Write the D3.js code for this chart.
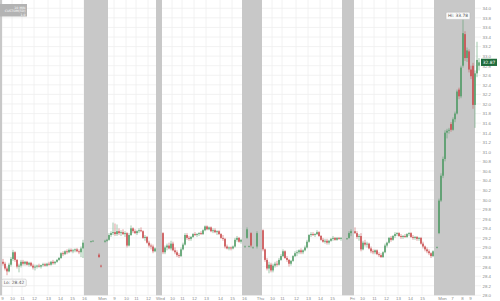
<!DOCTYPE html>
<html>
<head>
<meta charset="utf-8">
<script src="https://cdn.jsdelivr.net/npm/d3@7"></script>
<style>
  body { margin: 0; background: #fff; }
  svg { display: block; font-family: "DejaVu Sans", sans-serif; }
</style>
</head>
<body>
<div id="chart"></div>
<script>
// bar number, open, high, low, close  (10 min bars, extended hours are sparse)
const candles = [
  // first day
  [1,28.70,28.76,28.62,28.66],[2,28.66,28.70,28.52,28.56],[3,28.56,28.60,28.42,28.50],[4,28.50,28.68,28.48,28.64],
  [5,28.64,28.80,28.60,28.76],[6,28.76,28.95,28.72,28.90],[7,28.90,28.92,28.70,28.74],[8,28.74,28.76,28.56,28.60],
  [9,28.60,28.66,28.48,28.62],[10,28.62,28.74,28.58,28.70],[11,28.70,28.74,28.62,28.66],[12,28.66,28.72,28.62,28.70],
  [13,28.70,28.72,28.62,28.64],[14,28.64,28.70,28.60,28.68],[15,28.68,28.70,28.60,28.62],[16,28.62,28.66,28.54,28.58],
  [17,28.58,28.64,28.52,28.60],[18,28.60,28.64,28.56,28.62],[19,28.62,28.66,28.58,28.60],[20,28.60,28.64,28.56,28.63],
  [21,28.63,28.68,28.60,28.65],[22,28.65,28.68,28.60,28.62],[23,28.62,28.68,28.60,28.66],[24,28.66,28.70,28.62,28.64],
  [25,28.64,28.72,28.62,28.70],[26,28.70,28.74,28.64,28.67],[27,28.67,28.72,28.64,28.70],[28,28.70,28.76,28.68,28.74],
  [29,28.74,28.80,28.72,28.78],[30,28.78,28.90,28.76,28.88],[31,28.88,28.92,28.82,28.86],[32,28.86,28.94,28.84,28.92],
  [33,28.92,28.96,28.86,28.90],[34,28.90,28.98,28.88,28.95],[35,28.95,28.98,28.90,28.92],[36,28.92,28.97,28.88,28.94],
  [37,28.94,28.98,28.90,28.96],[38,28.96,28.99,28.90,28.92],[39,28.92,28.96,28.86,28.90],[40,28.90,29.02,28.80,28.98],
  [41,28.98,29.16,28.78,29.10],
  // after hours / pre market
  [45,29.12,29.14,29.10,29.13],[46,29.13,29.15,29.12,29.14],[49,28.85,28.88,28.78,28.80],[50,28.62,28.64,28.58,28.60],
  [52,29.12,29.16,29.10,29.14],[53,29.14,29.18,29.12,29.16],
  // Mon (half day)
  [54,29.16,29.30,29.14,29.26],[55,29.26,29.34,29.22,29.30],[56,29.30,29.52,29.26,29.32],[57,29.32,29.50,29.24,29.28],
  [58,29.28,29.48,29.24,29.34],[59,29.34,29.40,29.26,29.30],[60,29.30,29.36,29.24,29.32],[61,29.32,29.38,29.26,29.28],
  [62,29.28,29.34,29.22,29.30],[63,29.30,29.32,29.00,29.04],[64,29.04,29.30,29.02,29.26],[65,29.26,29.46,29.24,29.40],
  [66,29.40,29.42,29.30,29.34],[67,29.34,29.38,29.28,29.30],[68,29.30,29.36,29.26,29.34],[69,29.34,29.40,29.30,29.36],
  [70,29.36,29.42,29.32,29.34],[71,29.34,29.36,29.18,29.20],[72,29.20,29.26,29.14,29.22],[73,29.22,29.24,29.08,29.10],
  [74,29.10,29.14,29.00,29.04],[75,29.04,29.08,28.96,29.02],[76,29.02,29.06,28.88,28.92],[77,28.92,29.00,28.90,28.98],
  // Wed
  [81,29.30,29.32,28.86,28.90],[82,28.90,29.04,28.86,29.00],[83,29.00,29.08,28.94,29.04],[84,29.04,29.10,28.96,28.98],
  [85,28.98,29.14,28.94,29.08],[86,29.08,29.12,28.92,28.94],[87,28.94,29.00,28.86,28.90],[88,28.90,28.94,28.80,28.84],
  [89,28.84,28.88,28.78,28.82],[90,28.82,29.00,28.80,28.96],[91,28.96,29.10,28.94,29.06],[92,29.06,29.30,29.04,29.26],
  [93,29.26,29.30,29.16,29.20],[94,29.20,29.24,29.14,29.18],[95,29.18,29.24,29.14,29.22],[96,29.22,29.30,29.20,29.28],
  [97,29.28,29.32,29.24,29.26],[98,29.26,29.30,29.22,29.28],[99,29.28,29.32,29.24,29.30],[100,29.30,29.34,29.26,29.28],
  [101,29.28,29.38,29.26,29.36],[102,29.36,29.46,29.34,29.44],[103,29.44,29.46,29.36,29.38],[104,29.38,29.44,29.36,29.42],
  [105,29.42,29.44,29.32,29.34],[106,29.34,29.40,29.30,29.36],[107,29.36,29.40,29.30,29.32],[108,29.32,29.36,29.26,29.34],
  [109,29.34,29.36,29.26,29.28],[110,29.28,29.30,29.18,29.20],[111,29.20,29.26,29.14,29.18],[112,29.18,29.20,28.98,29.02],
  [113,29.02,29.06,28.96,28.98],[114,28.98,29.02,28.94,29.00],[115,29.00,29.02,28.94,28.98],[116,28.98,29.04,28.96,29.02],
  [117,29.02,29.20,29.00,29.16],[118,29.16,29.24,29.12,29.20],[119,29.20,29.22,29.10,29.12],[120,29.12,29.18,29.08,29.16],
  [122,29.02,29.04,29.00,29.02],[123,29.20,29.42,29.18,29.38],[124,29.02,29.04,29.00,29.03],[125,29.30,29.32,29.00,29.04],
  [126,29.00,29.02,28.98,29.00],[128,29.02,29.34,28.98,29.30],
  // Thu
  [131,29.36,29.38,28.92,28.96],[132,28.96,28.98,28.70,28.74],[133,28.74,28.78,28.52,28.56],[134,28.56,28.70,28.46,28.64],
  [135,28.64,28.68,28.48,28.52],[136,28.52,28.66,28.48,28.62],[137,28.62,28.70,28.58,28.66],[138,28.66,28.72,28.60,28.64],
  [139,28.64,28.78,28.62,28.74],[140,28.74,28.86,28.72,28.82],[141,28.82,28.96,28.80,28.92],[142,28.92,28.94,28.76,28.78],
  [143,28.78,28.82,28.70,28.74],[144,28.74,28.76,28.60,28.66],[145,28.66,28.74,28.62,28.72],[146,28.72,28.84,28.70,28.82],
  [147,28.82,28.92,28.80,28.88],[148,28.88,28.94,28.82,28.90],[149,28.90,28.96,28.86,28.94],[150,28.94,28.98,28.86,28.90],
  [151,28.90,28.96,28.86,28.94],[152,28.94,29.04,28.92,29.00],[153,29.00,29.16,28.98,29.12],[154,29.12,29.28,29.10,29.26],
  [155,29.26,29.32,29.22,29.28],[156,29.28,29.32,29.24,29.26],[157,29.26,29.30,29.22,29.28],[158,29.28,29.36,29.26,29.32],
  [159,29.32,29.34,29.22,29.24],[160,29.24,29.26,29.14,29.16],[161,29.16,29.20,29.10,29.12],[162,29.12,29.18,29.08,29.14],
  [163,29.14,29.18,29.06,29.10],[164,29.10,29.16,29.06,29.14],[165,29.14,29.20,29.12,29.18],[166,29.18,29.24,29.14,29.20],
  [167,29.20,29.22,29.14,29.16],[168,29.16,29.22,29.14,29.20],[169,29.20,29.22,29.16,29.18],[170,29.18,29.22,29.14,29.20],
  [173,29.18,29.20,29.16,29.19],[174,29.20,29.34,29.18,29.30],[175,29.30,29.38,29.24,29.34],
  // Fri
  [177,29.34,29.42,29.28,29.30],[178,29.30,29.34,29.18,29.22],[179,29.22,29.28,29.14,29.24],[180,29.24,29.30,28.92,28.96],
  [181,28.96,29.14,28.94,29.10],[182,29.10,29.16,29.02,29.06],[183,29.06,29.12,29.00,29.08],[184,29.08,29.10,28.96,28.98],
  [185,28.98,29.02,28.88,28.92],[186,28.92,28.96,28.86,28.90],[187,28.90,28.96,28.86,28.94],[188,28.94,28.96,28.84,28.86],
  [189,28.86,28.90,28.80,28.84],[190,28.84,28.88,28.78,28.80],[191,28.80,28.92,28.78,28.90],[192,28.90,29.08,28.88,29.04],
  [193,29.04,29.12,29.00,29.10],[194,29.10,29.22,29.08,29.20],[195,29.20,29.24,29.12,29.16],[196,29.16,29.26,29.14,29.24],
  [197,29.24,29.32,29.20,29.28],[198,29.28,29.32,29.24,29.30],[199,29.30,29.32,29.22,29.24],[200,29.24,29.28,29.18,29.22],
  [201,29.22,29.26,29.18,29.24],[202,29.24,29.28,29.20,29.22],[203,29.22,29.30,29.20,29.28],[204,29.28,29.32,29.24,29.30],
  [205,29.30,29.32,29.20,29.22],[206,29.22,29.26,29.16,29.20],[207,29.20,29.24,29.16,29.22],[208,29.22,29.24,29.14,29.18],
  [209,29.18,29.22,29.14,29.20],[210,29.20,29.22,29.06,29.08],[211,29.08,29.12,28.98,29.02],[212,29.02,29.04,28.92,28.96],
  [213,28.96,29.00,28.88,28.92],[214,28.92,28.96,28.84,28.88],[215,28.88,28.90,28.78,28.82],[216,28.82,28.94,28.80,28.92],
  // Mon pre market spike
  [218,29.00,29.02,28.98,29.01],[219,29.30,30.02,29.28,29.98],[220,29.98,30.55,29.95,30.50],[221,30.50,30.90,30.45,30.85],
  [222,30.85,31.45,30.80,31.40],[223,31.40,31.48,31.28,31.44],[224,31.44,31.50,31.38,31.46],[225,31.58,31.62,31.42,31.46],
  [226,31.46,31.72,31.44,31.68],[227,31.68,31.84,31.62,31.80],[228,31.80,32.30,31.78,32.26],[229,32.30,32.34,32.10,32.16],
  [230,32.16,32.80,32.12,32.76],[231,32.80,33.78,32.76,33.48],[232,33.46,33.52,32.90,32.96],[233,32.96,33.18,32.88,33.12],
  [234,33.10,33.14,32.66,32.72],[235,32.72,32.80,32.52,32.58],[236,32.80,32.86,31.90,31.98],[237,31.98,32.70,31.50,32.64],
  // Mon open
  [238,32.64,33.30,32.56,32.92],[239,32.80,32.96,32.70,32.87]
];

// extended hours shading (bar ranges)
const extendedHours = [[0, 1], [42, 54], [78, 81], [121, 131], [171, 177], [217, 237.5]];

// x tick labels (bar number, label)
const xTicks = [
  [1,"9"],[6,"10"],[11,"11"],[17,"12"],[24,"13"],[30,"14"],[36,"15"],[42,"16"],
  [51,"Mon"],[57,"9"],[63,"10"],[68,"11"],[74,"12"],
  [80,"Wed"],[86,"10"],[91,"11"],[97,"12"],[103,"13"],[110,"14"],[116,"15"],[122,"16"],
  [130,"Thu"],[136,"10"],[141,"11"],[148,"12"],[154,"13"],[160,"14"],[166,"15"],
  [176,"Fri"],[181,"10"],[187,"11"],[193,"12"],[199,"13"],[205,"14"],[211,"15"],
  [221,"Mon"],[226,"7"],[231,"8"],[235,"9"]
];

const yTicks = [28,28.2,28.4,28.6,28.8,29,29.2,29.4,29.6,29.8,30,30.2,30.4,30.6,30.8,
  31,31.2,31.4,31.6,31.8,32,32.2,32.4,32.6,32.8,33,33.2,33.4,33.6,33.8,34];

const legendLines = ["10 MIN", "CUSTOM(5D)", "1.0"];

const app = {
  chartSpecs: {
    width: 500,
    height: 301,
    plot: { left: 0, right: 481, top: 8.3, bottom: 295.3 },
    up: "#4f9a64",
    down: "#c8484a"
  },
  svgEl: null,
  initialize: () => {
    const { width, height } = app.chartSpecs;
    app.svgEl = d3.select("#chart").append("svg").attr("width", width).attr("height", height);
    app.drawChart();
  },
  drawChart: () => {
    const svg = app.svgEl;
    const { plot, up, down } = app.chartSpecs;

    // X: bar number
    const x = d3.scaleLinear().domain([0, 240.5]).range([plot.left, plot.right]);
    // Y: price
    const y = d3.scaleLinear().domain([28, 34]).range([plot.bottom, plot.top]);

    // grid
    const grid = svg.append("g").attr("stroke", "#efefef").attr("stroke-width", 0.8);
    grid.selectAll("line.h").data(yTicks).join("line")
      .attr("x1", plot.left).attr("x2", plot.right)
      .attr("y1", d => y(d)).attr("y2", d => y(d));
    grid.selectAll("line.v").data(xTicks).join("line")
      .attr("x1", d => x(d[0])).attr("x2", d => x(d[0]))
      .attr("y1", 0).attr("y2", plot.bottom);

    // extended hours bands
    svg.append("g").selectAll("rect").data(extendedHours).join("rect")
      .attr("x", d => x(d[0])).attr("width", d => x(d[1]) - x(d[0]))
      .attr("y", 0).attr("height", plot.bottom)
      .attr("fill", "#c8c8c8");

    // candles
    const color = d => d[4] >= d[1] ? up : down;
    const cg = svg.append("g");
    cg.selectAll("line").data(candles).join("line")
      .attr("x1", d => x(d[0] + 0.5)).attr("x2", d => x(d[0] + 0.5))
      .attr("y1", d => y(d[2])).attr("y2", d => y(d[3]))
      .attr("stroke", color).attr("stroke-width", 0.7).attr("opacity", 0.75);
    cg.selectAll("rect").data(candles).join("rect")
      .attr("x", d => x(d[0] + 0.5) - 0.75).attr("width", 1.5)
      .attr("y", d => y(Math.max(d[1], d[4])))
      .attr("height", d => Math.max(0.7, Math.abs(y(d[1]) - y(d[4]))))
      .attr("fill", color);

    // axes
    const gx = svg.append("g").attr("transform", `translate(0,${plot.bottom})`)
      .call(d3.axisBottom(x).tickValues(xTicks.map(d => d[0]))
        .tickFormat((d, i) => xTicks[i][1]).tickSize(0).tickPadding(1.6));
    const gy = svg.append("g").attr("transform", `translate(${plot.right + 1.5},0)`)
      .call(d3.axisRight(y).tickValues(yTicks).tickSize(0).tickPadding(0));
    [gx, gy].forEach(g => {
      g.select(".domain").remove();
      g.selectAll("text").attr("fill", "#8a8a8a").style("font-size", "4.4px");
    });

    // hi / lo markers
    const hi = d3.greatest(candles, d => d[2]);
    const lo = d3.least(candles, d => d[3]);
    const tag = (cx, ty, label) => {
      const g = svg.append("g");
      const t = g.append("text").attr("x", cx).attr("y", ty).attr("text-anchor", "middle")
        .attr("dy", "0.35em").attr("fill", "#555").style("font-size", "4.4px").text(label);
      const w = t.node().getComputedTextLength() + 4;
      g.insert("rect", "text").attr("x", cx - w / 2).attr("y", ty - 3.6).attr("width", w).attr("height", 7.2)
        .attr("rx", 1.2).attr("fill", "#fafafa").attr("stroke", "#b8b8b8").attr("stroke-width", 0.5);
    };
    tag(x(hi[0]) - 4, y(hi[2]) - 3, `Hi: ${hi[2].toFixed(2)}`);
    tag(x(lo[0]) + 8, y(lo[3]) + 7.5, `Lo: ${lo[3].toFixed(2)}`);

    // last price
    const last = candles[candles.length - 1];
    const lp = svg.append("g");
    lp.append("rect").attr("x", plot.right).attr("y", y(last[4]) - 3.6).attr("width", 16).attr("height", 7.2)
      .attr("fill", "#1f6b3b");
    lp.append("text").attr("x", plot.right + 8).attr("y", y(last[4])).attr("dy", "0.35em")
      .attr("text-anchor", "middle").attr("fill", "#fff").style("font-size", "4.4px").text(last[4].toFixed(2));

    // legend box
    const lg = svg.append("g");
    lg.append("rect").attr("x", 0).attr("y", 4).attr("width", 27).attr("height", 12.5).attr("fill", "#b3b3b3");
    lg.selectAll("text").data(legendLines).join("text")
      .attr("x", 25.5).attr("y", (d, i) => 7.4 + i * 3.6).attr("dy", "0.35em")
      .attr("text-anchor", "end").attr("fill", "#fff").style("font-size", "3.2px").text(d => d);
  }
};

document.addEventListener("DOMContentLoaded", app.initialize);
</script>
</body>
</html>
